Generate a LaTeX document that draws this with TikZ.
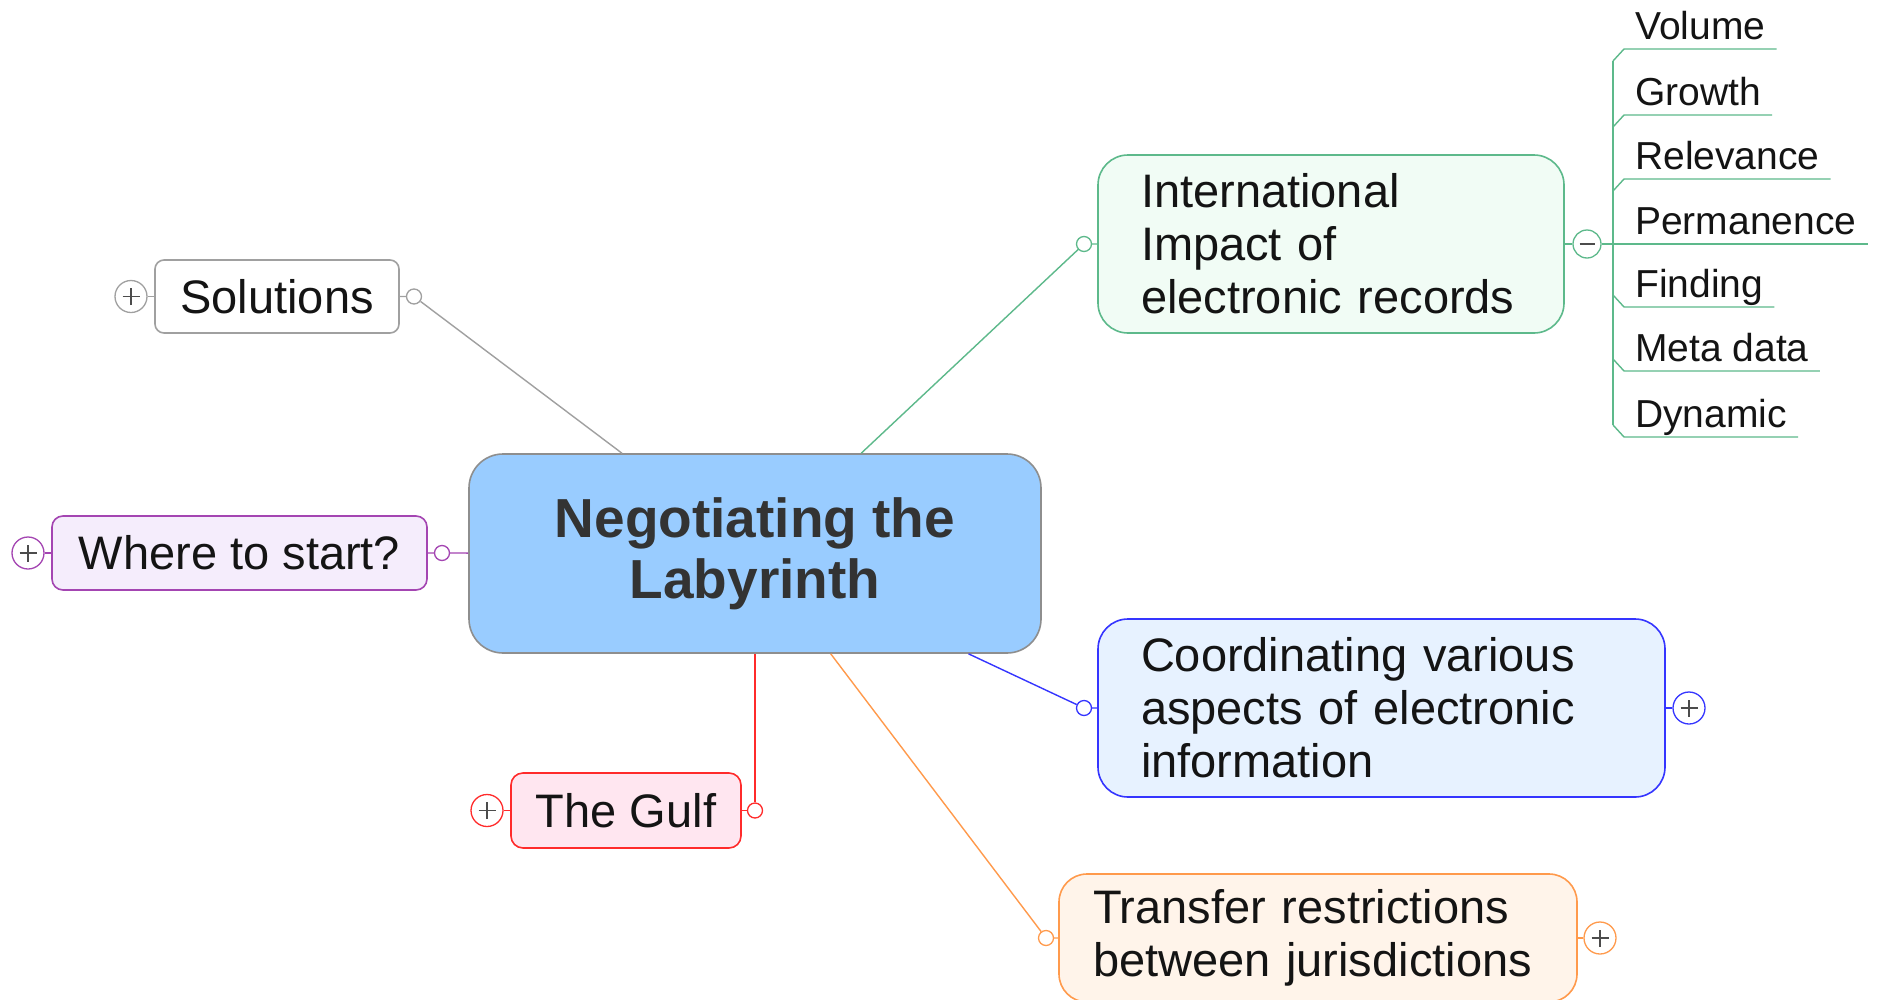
\documentclass[tikz,border=0pt]{standalone}
\usepackage{fontspec}
\setmainfont{Liberation Sans}

\definecolor{rootfill}{HTML}{99CCFF}
\definecolor{rootline}{HTML}{8E8E8E}
\definecolor{gryline}{HTML}{A0A0A0}
\definecolor{purline}{HTML}{A445B2}
\definecolor{purfill}{HTML}{F5EDFC}
\definecolor{redline}{HTML}{FF2B2B}
\definecolor{redfill}{HTML}{FFE6F0}
\definecolor{grnline}{HTML}{5DB98B}
\definecolor{grnfill}{HTML}{F1FCF5}
\definecolor{bluline}{HTML}{3535FF}
\definecolor{blufill}{HTML}{E7F2FF}
\definecolor{orgline}{HTML}{FF9A4C}
\definecolor{orgfill}{HTML}{FFF4EA}

\tikzset{
  root/.style={draw=rootline, fill=rootfill, line width=1.6pt, rounded corners=34pt,
    minimum width=572pt, minimum height=199pt, align=center, text=black!80,
    font=\bfseries\fontsize{55}{61}\selectfont},
  topic/.style={draw, line width=1.6pt, rounded corners=11pt, inner sep=0pt,
    text=black!92, font=\fontsize{47}{53}\selectfont},
  knob/.style={circle, draw, fill=white, line width=1.3pt, minimum size=15pt, inner sep=0pt},
  plusknob/.style={circle, draw, fill=white, line width=1.3pt, minimum size=32pt, inner sep=0pt,
    path picture={\draw[black!70, line width=1.5pt]
      ([xshift=-8.5pt]path picture bounding box.center) -- ([xshift=8.5pt]path picture bounding box.center)
      ([yshift=-8.5pt]path picture bounding box.center) -- ([yshift=8.5pt]path picture bounding box.center);}},
  minusknob/.style={circle, draw, fill=white, line width=1.3pt, minimum size=28pt, inner sep=0pt,
    path picture={\draw[black!70, line width=1.5pt]
      ([xshift=-7.5pt]path picture bounding box.center) -- ([xshift=7.5pt]path picture bounding box.center);}},
  leaf/.style={anchor=base west, inner xsep=11pt, inner ysep=0pt, text=black!92,
    font=\fontsize{39}{44}\selectfont},
  wire/.style={line width=1.4pt}
}

\begin{document}
\begin{tikzpicture}[x=1pt, y=-1pt]
\useasboundingbox (0,0) rectangle (1885,999);
\fill[white] (0,0) rectangle (1885,999);

% centre
\node[root] (root) at (755,553.5) {Negotiating the\\Labyrinth};

% left branches
\node[topic, draw=gryline, fill=white, minimum width=244pt, minimum height=73pt, rounded corners=9pt] (sol) at (277,296.5) {Solutions};
\node[knob, draw=gryline] (solK) at (414,296.5) {};
\node[plusknob, draw=gryline] (solX) at (131,296.5) {};

\node[topic, draw=purline, fill=purfill, minimum width=375pt, minimum height=74pt] (whe) at (239.5,553) {Where to start?};
\node[knob, draw=purline] (wheK) at (442,553) {};
\node[plusknob, draw=purline] (wheX) at (28,553) {};

\node[topic, draw=redline, fill=redfill, minimum width=230pt, minimum height=75pt, rounded corners=12pt] (gul) at (626,810.5) {The Gulf};
\node[knob, draw=redline] (gulK) at (755,810.5) {};
\node[plusknob, draw=redline] (gulX) at (487,810.5) {};

% right branches
\node[topic, draw=grnline, fill=grnfill, text width=380pt, inner xsep=43pt, minimum height=178pt, rounded corners=30pt, align=left] (int) at (1331,244) {International\\Impact of\\electronic records};
\node[knob, draw=grnline] (intK) at (1084,244) {};
\node[minusknob, draw=grnline] (intX) at (1587,244) {};

\node[topic, draw=bluline, fill=blufill, text width=481pt, inner xsep=43pt, minimum height=178pt, rounded corners=30pt, align=left] (coo) at (1381.5,708) {Coordinating various\\aspects of electronic\\information};
\node[knob, draw=bluline] (cooK) at (1084,708) {};
\node[plusknob, draw=bluline] (cooX) at (1689,708) {};

\node[topic, draw=orgline, fill=orgfill, text width=450pt, inner xsep=34pt, minimum height=128pt, rounded corners=28pt, align=left] (tra) at (1318,938) {Transfer restrictions\\between jurisdictions};
\node[knob, draw=orgline] (traK) at (1046,938) {};
\node[plusknob, draw=orgline] (traX) at (1600,938) {};

% connectors
\draw[wire, gryline] (sol) -- (solK) -- (root);
\draw[wire, gryline] (solX) -- (sol);
\draw[wire, purline] (whe) -- (wheK) -- (root);
\draw[wire, purline] (wheX) -- (whe);
\draw[wire, redline] (gul) -- (gulK) -- (root);
\draw[wire, redline] (gulX) -- (gul);
\draw[wire, grnline] (int) -- (intK) -- (root);
\draw[wire, grnline] (intX) -- (int);
\draw[wire, bluline] (coo) -- (cooK) -- (root);
\draw[wire, bluline] (cooX) -- (coo);
\draw[wire, orgline] (tra) -- (traK) -- (root);
\draw[wire, orgline] (traX) -- (tra);

% sub topics
\foreach \n/\t/\y in {vol/Volume/49, gro/Growth/115, rel/Relevance/179, per/Permanence/244,
    fin/Finding/307, met/Meta data/371, dyn/Dynamic/437}
  \node[leaf] (\n) at (1624,\y-10) {\t};

\foreach \n in {vol,gro,rel}
  \draw[wire, grnline] ([yshift=-10pt]\n.base east) -- ([yshift=-10pt]\n.base west) -- ++(-11pt,-12pt);
\foreach \n in {fin,met,dyn}
  \draw[wire, grnline] ([yshift=-10pt]\n.base east) -- ([yshift=-10pt]\n.base west) -- ++(-11pt,12pt);
\draw[wire, grnline] (intX) -- ([yshift=-10pt]per.base east);
\draw[wire, grnline] ([shift={(-11pt,-22pt)}]vol.base west) -- ([shift={(-11pt,2pt)}]dyn.base west);
\end{tikzpicture}
\end{document}
